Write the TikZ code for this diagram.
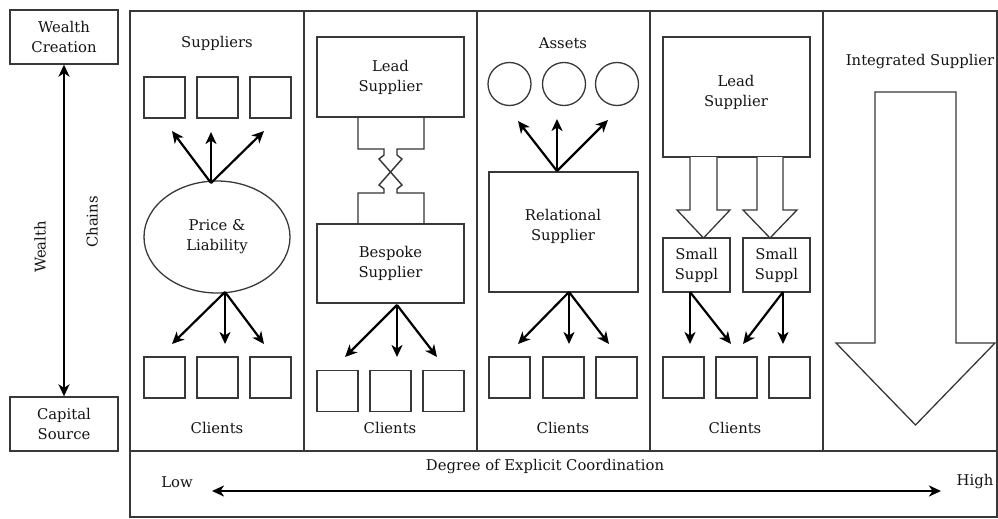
\documentclass[tikz,border=0pt]{standalone}
\usepackage{fontspec}
\setmainfont{DejaVu Serif}
\usetikzlibrary{arrows.meta,shapes.geometric,calc}
\begin{document}
\begin{tikzpicture}[x=1pt,y=-1pt,
  every node/.style={font=\fontsize{14.8}{20}\selectfont, align=center, text=black!92},
  frame/.style={draw=black!78, line width=1.8},
  box/.style={draw=black!78, line width=1.3, inner sep=0pt},
  sq/.style={box, minimum width=41pt, minimum height=41pt},
  circ/.style={box, circle, minimum size=43pt},
  arr/.style={line width=2.2, -{Stealth[length=12pt,width=11pt,inset=3.5pt]}},
  darr/.style={line width=2.2, {Stealth[length=12pt,width=11pt,inset=3.5pt]}-{Stealth[length=12pt,width=11pt,inset=3.5pt]}},
  hollow/.style={draw=black!78, line width=1.3, fill=white, line join=miter},
  pipe/.style={draw=black!80, line width=1.4, line join=miter}
]
\useasboundingbox (0,0) rectangle (998,519);

% frame
\draw[frame] (130,11) rectangle (997,517);
\draw[frame] (130,451) -- (997,451);
\foreach \x in {304,477,650,823} \draw[frame] (\x,11) -- (\x,451);

% left side
\node[box, minimum width=108pt, minimum height=54pt] (wc) at (64,37) {Wealth\\Creation};
\node[box, minimum width=108pt, minimum height=54pt] (cs) at (64,424) {Capital\\Source};
\draw[darr] (wc.south) -- (cs.north);
\node[rotate=90] (wl) at (40,247) {Wealth};
\node[rotate=90] (ch) at (92,222) {Chains};

% column 1
\node (sup1) at (217,43) {Suppliers};
\node[sq] (a1) at (164.5,97.5) {};
\node[sq] (a2) at (217.5,97.5) {};
\node[sq] (a3) at (270.5,97.5) {};
\node[box, ellipse, minimum width=146pt, minimum height=112pt] (pl) at (217,237) {Price \&\\Liability};
\coordinate (o1) at (211,183);
\coordinate (t11) at (172,131);
\coordinate (t12) at (211,132);
\coordinate (t13) at (264,131);
\draw[arr] (o1) -- (t11);
\draw[arr] (o1) -- (t12);
\draw[arr] (o1) -- (t13);
\coordinate (o2) at (225,292);
\coordinate (t21) at (172,344);
\coordinate (t22) at (225,344);
\coordinate (t23) at (264,344);
\draw[arr] (o2) -- (t21);
\draw[arr] (o2) -- (t22);
\draw[arr] (o2) -- (t23);
\node[sq] (b1) at (164.5,377.5) {};
\node[sq] (b2) at (217.5,377.5) {};
\node[sq] (b3) at (270.5,377.5) {};
\node (cl1) at (217,428) {Clients};

% column 2
\node[box, minimum width=147pt, minimum height=80pt] (ls2) at (390.5,77) {Lead\\Supplier};
\node[box, minimum width=147pt, minimum height=79pt] (bs) at (390.5,263.5) {Bespoke\\Supplier};
\draw[pipe] (358,117) -- (358,149) -- (384,149) -- (384,155) -- (379,159) -- (402,185) -- (397,189) -- (397,193) -- (424,193) -- (424,224);
\draw[pipe] (424,117) -- (424,149) -- (397,149) -- (397,155) -- (402,159) -- (379,185) -- (384,189) -- (384,193) -- (358,193) -- (358,224);
\coordinate (o3) at (397,305);
\coordinate (t31) at (345,357);
\coordinate (t32) at (397,357);
\coordinate (t33) at (437,357);
\draw[arr] (o3) -- (t31);
\draw[arr] (o3) -- (t32);
\draw[arr] (o3) -- (t33);
\node[sq] (c1) at (337.5,391) {};
\node[sq] (c2) at (390.5,391) {};
\node[sq] (c3) at (443.5,391) {};
\node (cl2) at (390,428) {Clients};

% column 3
\node (as) at (563,43) {Assets};
\node[circ] (d1) at (509.5,84) {};
\node[circ] (d2) at (564,84) {};
\node[circ] (d3) at (617,84) {};
\node[box, minimum width=149pt, minimum height=120pt] (rs) at (563.5,232) {};
\node (rsl) at (563,226) {Relational\\Supplier};
\coordinate (o4) at (557,171);
\coordinate (t41) at (518,121);
\coordinate (t42) at (557,119);
\coordinate (t43) at (608,120);
\draw[arr] (o4) -- (t41);
\draw[arr] (o4) -- (t42);
\draw[arr] (o4) -- (t43);
\coordinate (o5) at (569,292);
\coordinate (t51) at (518,344);
\coordinate (t52) at (569,344);
\coordinate (t53) at (609,344);
\draw[arr] (o5) -- (t51);
\draw[arr] (o5) -- (t52);
\draw[arr] (o5) -- (t53);
\node[sq] (e1) at (509.5,377.5) {};
\node[sq] (e2) at (563.5,377.5) {};
\node[sq] (e3) at (616.5,377.5) {};
\node (cl3) at (563,428) {Clients};

% column 4
\node[box, minimum width=147pt, minimum height=120pt] (ls4) at (736.5,97) {};
\node (ls4l) at (736,92) {Lead\\Supplier};
\draw[hollow] (690,157) -- (690,210) -- (677,210) -- (703.5,238) -- (730,210) -- (717,210) -- (717,157);
\draw[hollow] (757,157) -- (757,210) -- (743,210) -- (770,238) -- (797,210) -- (783,210) -- (783,157);
\node[box, minimum width=67pt, minimum height=54pt] (ss1) at (696.5,265) {Small\\Suppl};
\node[box, minimum width=67pt, minimum height=54pt] (ss2) at (776.5,265) {Small\\Suppl};
\coordinate (o6) at (690,292);
\coordinate (o7) at (783,292);
\coordinate (t61) at (690,344);
\coordinate (t62) at (731,344);
\coordinate (t71) at (743,344);
\coordinate (t72) at (783,344);
\draw[arr] (o6) -- (t61);
\draw[arr] (o6) -- (t62);
\draw[arr] (o7) -- (t71);
\draw[arr] (o7) -- (t72);
\node[sq] (f1) at (683.5,377.5) {};
\node[sq] (f2) at (736.5,377.5) {};
\node[sq] (f3) at (789.5,377.5) {};
\node (cl4) at (735,428) {Clients};

% column 5
\node (is) at (920,62) {Integrated Supplier};
\draw[hollow] (875,92) -- (875,343) -- (836,343) -- (915.5,425) -- (995,343) -- (956,343) -- (956,92) -- cycle;

% bottom band
\node (deg) at (545,467) {Degree of Explicit Coordination};
\node (low) at (177,482) {Low};
\node (high) at (975,482) {High};
\coordinate (lo) at (212,491);
\coordinate (hi) at (941,491);
\draw[darr] (lo) -- (hi);
\end{tikzpicture}
\end{document}
